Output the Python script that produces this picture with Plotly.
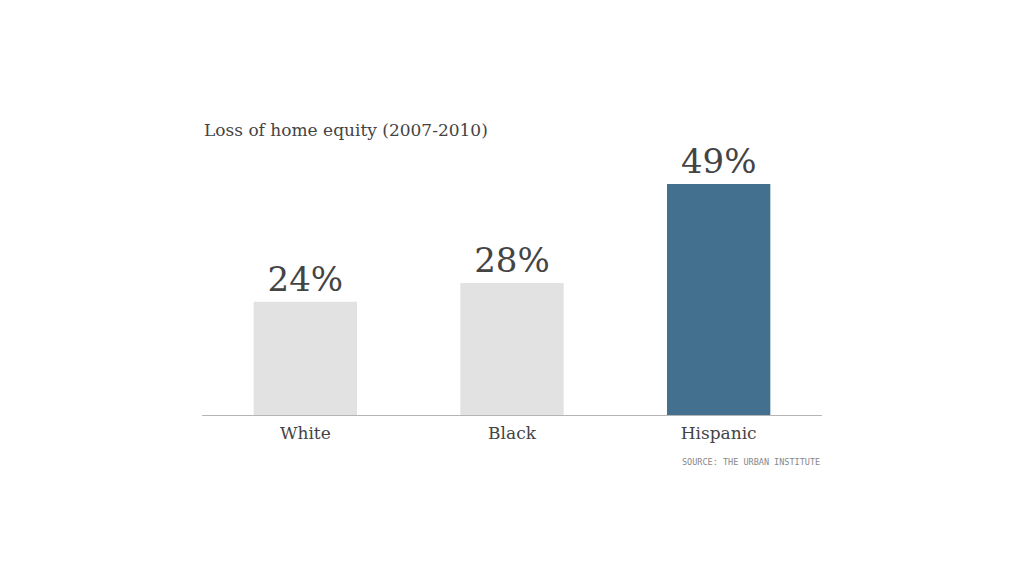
import plotly.graph_objects as go

categories = ["White", "Black", "Hispanic"]
values = [24, 28, 49]
labels = ["24%", "28%", "49%"]
colors = ["#e2e2e2", "#e2e2e2", "#43708f"]

fig = go.Figure()
fig.add_trace(go.Bar(
    x=categories, y=values, text=labels, textposition="outside",
    marker=dict(color=colors, line=dict(width=0)),
    width=0.5, cliponaxis=False,
    textfont=dict(family="DejaVu Serif", size=34, color="#444444"),
    hoverinfo="skip",
))

fig.update_layout(
    width=1024, height=576,
    margin=dict(l=194, r=210, t=92, b=169),
    paper_bgcolor="white", plot_bgcolor="white",
    showlegend=False,
    xaxis=dict(showline=True, linecolor="#b5b5b5", linewidth=1, ticks="",
               ticklabelstandoff=3,
               tickfont=dict(family="DejaVu Serif", size=17, color="#444444"),
               showgrid=False, zeroline=False),
    yaxis=dict(range=[0, 66.8], visible=False, showgrid=False, zeroline=False),
    annotations=[
        dict(text="Loss of home equity (2007-2010)", xref="paper", yref="paper",
             x=0.0, y=0.905, xanchor="left", yanchor="middle", showarrow=False,
             font=dict(family="DejaVu Serif", size=17, color="#444444")),
        dict(text="SOURCE: THE URBAN INSTITUTE", xref="paper", yref="paper",
             x=1, y=-0.15, xanchor="right", yanchor="middle", showarrow=False,
             font=dict(family="DejaVu Sans Mono", size=8.5, color="#888888")),
    ],
)

fig.write_html("out.html")
